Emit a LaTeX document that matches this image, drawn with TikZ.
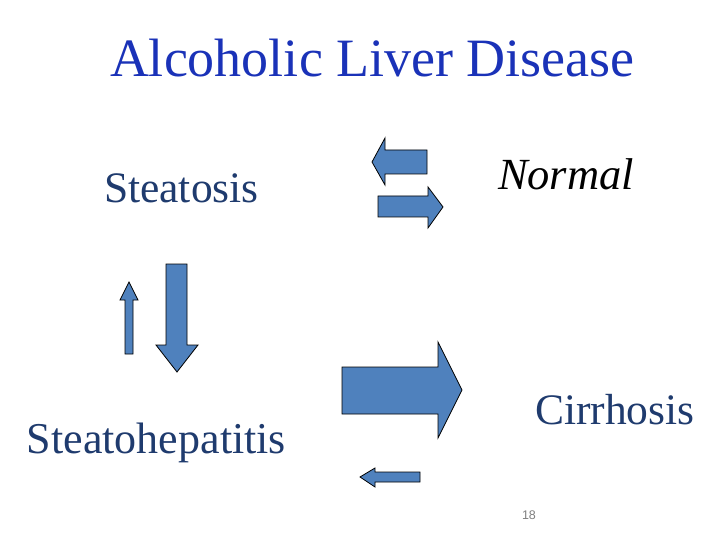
\documentclass[tikz,border=0pt]{standalone}
\usepackage{fontspec}
\setmainfont{Liberation Serif}
\newfontfamily\numfont{Liberation Sans}
\definecolor{titleblue}{HTML}{1A32B8}
\definecolor{darkblue}{HTML}{1F3B6E}
\definecolor{arrowfill}{HTML}{4F81BD}
\definecolor{pagegrey}{HTML}{808080}
\tikzset{
  blockarrow/.style={fill=arrowfill, draw=black, line width=0.8pt, line join=miter},
  lbl/.style={anchor=base west, inner sep=0pt, outer sep=0pt},
}
\begin{document}
\begin{tikzpicture}[x=1pt, y=-1pt]
\useasboundingbox (0,0) rectangle (720,540);
\fill[white] (0,0) rectangle (720,540);
% texts
\node[lbl, text=titleblue, font=\fontsize{54}{60}\selectfont] (title) at (110,77) {Alcoholic Liver Disease};
\node[lbl, text=darkblue, font=\fontsize{43.5}{48}\selectfont] (steatosis) at (104,203) {Steatosis};
\node[lbl, text=black, font=\fontsize{44.5}{48}\selectfont\itshape] (normal) at (498,190) {Normal};
\node[lbl, text=darkblue, font=\fontsize{44}{48}\selectfont] (steatohep) at (27,453) {Steatohepatitis};
\node[lbl, text=darkblue, font=\fontsize{43.5}{48}\selectfont] (cirrhosis) at (535,424) {Cirrhosis};
\node[lbl, text=pagegrey, font=\fontsize{12.5}{14}\selectfont\numfont] (pagenum) at (522,519) {18};
% arrow: left (top)
\draw[blockarrow] (372,162) -- (385,138) -- (385,150) -- (427,150) -- (427,174) -- (385,174) -- (385,185) -- cycle;
% arrow: right (top)
\draw[blockarrow] (443,207) -- (428,187) -- (428,196) -- (378,196) -- (378,217) -- (428,217) -- (428,228) -- cycle;
% arrow: up small
\draw[blockarrow] (129,282) -- (138,300) -- (133,300) -- (133,354) -- (125,354) -- (125,300) -- (120,300) -- cycle;
% arrow: down large
\draw[blockarrow] (177,372) -- (198,345) -- (187,345) -- (187,264) -- (166,264) -- (166,345) -- (156,345) -- cycle;
% arrow: big right
\draw[blockarrow] (462,390) -- (438,342) -- (438,367) -- (342,367) -- (342,414) -- (438,414) -- (438,438) -- cycle;
% arrow: small left
\draw[blockarrow] (360,477) -- (375,468) -- (375,472) -- (420,472) -- (420,482) -- (375,482) -- (375,487) -- cycle;
\end{tikzpicture}
\end{document}
